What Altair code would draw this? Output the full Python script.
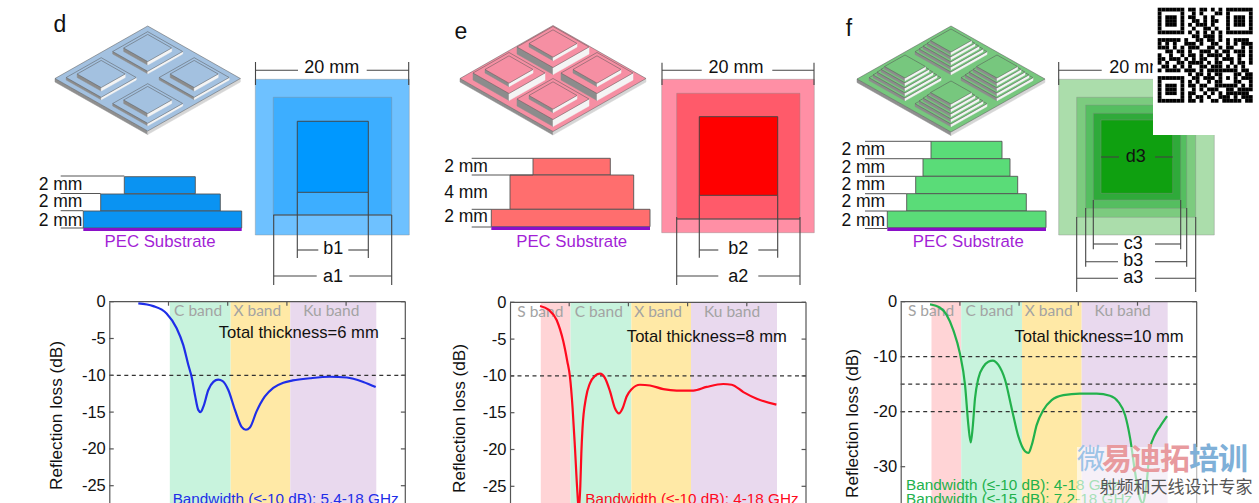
import altair as alt
import pandas as pd

# ---------- reflection-loss curves (GHz, dB) ----------
f_d = [1.96,2.97,3.87,4.55,5,5.34,5.56,5.79,6.01,6.17,6.35,6.69,7.03,7.36,7.66,8.04,8.49,8.94,9.23,9.5,9.95,10.5,11.08,11.76,12.4,13.56,14.9,16.04,17.16,18]
rl_d = [-.23,-.6,-1.6,-3.6,-5.9,-8.6,-10.2,-12.7,-14.7,-15,-14.3,-12,-10.9,-10.6,-10.8,-12,-14.7,-17,-17.4,-17.1,-14.9,-12.9,-11.7,-11,-10.7,-10.4,-10.2,-10.3,-10.9,-11.6]
f_e = [2.03,2.6,3.15,3.6,3.87,4.05,4.23,4.39,4.55,4.65,4.75,4.82,4.9,5.13,5.4,5.74,6.08,6.42,6.76,7.09,7.36,7.61,7.88,8.22,8.78,9.46,10.36,11.26,12.39,13.29,14.41,14.98,15.77,16.67,18]
rl_e = [-.5,-1,-2.4,-5.3,-8,-10.1,-14.4,-19.8,-25.7,-28.3,-25,-20.5,-17.1,-13,-11,-10,-9.7,-10.3,-12.1,-14.4,-15.1,-14.4,-12.8,-11.8,-11.2,-11.3,-11.8,-12,-12,-11.5,-11.1,-11.2,-12.2,-13.1,-13.9]
f_f = [1.98,2.66,3.1,3.56,4,4.35,4.57,4.73,4.86,5.02,5.25,5.59,5.92,6.22,6.6,7.05,7.5,7.95,8.4,8.63,8.85,9.19,9.64,10.2,10.99,12.1,13.24,14.14,14.7,15.16,15.5,15.83,16.17,16.35,16.6,16.85,17.18,17.52,18]
rl_f = [-.5,-1.1,-2.4,-5.2,-9.4,-15.2,-22.4,-25.6,-23,-17.6,-13.9,-11.8,-10.9,-10.7,-11.5,-14.2,-19.4,-24.5,-27.2,-27.5,-26.1,-22.4,-19.7,-17.9,-17,-16.7,-16.7,-17.1,-18.2,-20.6,-24.8,-30.9,-35.8,-36.6,-33.3,-26.7,-24.2,-22.7,-20.8]

band_names = ["S band", "C band", "X band", "Ku band"]
band_start = [2.08, 4.09, 8.2, 12.23]
band_end = [4.09, 8.2, 12.23, 18.04]
band_label_x = [2.05, 6, 10, 15]
band_colors = ["#FFD4D6", "#C8F3DD", "#FFE9A6", "#E9D9EE"]

# ---------- schematic geometry, in picture pixels ----------
side_squares = [
    [255.3,409.3,79.3,235,"#6EC1FF"],[273.3,391.7,97.3,215,"#3DAEFF"],[297.3,368.3,121.3,192.3,"#0098FF"],
    [661.7,814.3,79.3,232.7,"#FF8FA5"],[676.7,800,93.3,219,"#FF5A6A"],[699.3,777.7,116.7,195.3,"#FF0000"],
    [1058.7,1214.3,79.3,235,"#ABDDAB"],[1076.7,1195.7,97.3,217.3,"#7CCB7F"],[1085.7,1186.7,105,208.3,"#55BE60"],
    [1093.3,1180.7,113.3,200,"#2FAA3A"],[1101,1172.7,120,193.3,"#0FA010"],
]
inner_squares = [side_squares[2], side_squares[5]]
stack_layers = [
    [124.3,195.3,176.7,193.7,"#0A93F2"],[100.7,220.3,194,211,"#0A93F2"],[83.3,241.7,211,228,"#0A93F2"],
    [533,610.3,158.3,175,"#FF6E6E"],[510,633.7,175,209.3,"#FF6E6E"],[491.3,650,209.3,226.7,"#FF6E6E"],
    [931,1002,141.3,158.7,"#5ADC78"],[923,1010,158.7,176.3,"#5ADC78"],[915.7,1017.7,176.3,193.7,"#5ADC78"],
    [906.7,1026.3,193.7,211,"#5ADC78"],[887.3,1046,211,227.7,"#5ADC78"],
]
pec_bars = [[83.3,241.7,228,231],[491.3,650,226.7,230],[887.3,1046,227.7,231]]

leaders = [
    [60.7,124.3,176],[60.7,100.7,193.5],[60.7,83.3,210.7],[60.7,83.3,228],
    [471.7,533,158.3],[471.7,533,175],[471.7,491.3,209.3],[471.7,491.3,227],
    [865,931,141.3],[865,923,158.7],[865,915.7,176.3],[865,906.7,193.7],[865,887.3,211],[865,887.3,228.5],
]
# horizontal dimension parts: x1, x2, y
dim_h = [
    [255.5,298,70.3],[366.7,408.7,70.3],[297.3,318.3,250],[348.3,368.3,250],[273.7,316.7,276],[349.3,391.7,276],
    [273.3,391.7,215],
    [662,701.7,70.3],[772.3,814,70.3],[699.3,718.3,250],[758.3,777.7,250],[676.7,718.3,276],[758.3,800,276],
    [676.7,800,219],
    [1058.7,1101.7,70.3],[1101,1119,157],[1155,1172.7,157],[1093.3,1118,244],[1155,1180.7,244],
    [1085.7,1118,261.7],[1155,1186.7,261.7],[1076.7,1118,278.3],[1155,1195.7,278.3],
]
# vertical dimension parts: x, y1, y2
dim_v = [
    [255.5,62,85],[408.7,62,85],[297.3,192.3,258],[368.3,192.3,258],[273.7,215,285],[391.7,215,285],
    [662,62.7,85],[814,62.7,85],[699.3,195.3,257.7],[777.7,195.3,257.7],[676.7,217,285],[800,217,285],
    [1058.7,62,85],[1093.3,200,249.3],[1180.7,200,249.3],[1085.7,208,266.7],[1186.7,208,266.7],
    [1076.7,217,292],[1195.7,217,292],
]
labels = [
    ["d",60,25,23],["e",461,32,23],["f",849,29,23],
    ["20 mm",331.7,68,18],["b1",333.3,249,18],["a1",333,277,18],
    ["20 mm",736,68,18],["b2",738.3,249,18],["a2",738.3,277,18],
    ["20 mm",1136.7,68,18],["d3",1135.7,156.7,18],["c3",1133.3,244,18],["b3",1133.3,261,18],["a3",1133.3,278,18],
    ["2 mm",60.5,184.5,17.5],["2 mm",60.5,202,17.5],["2 mm",60.5,221,17.5],
    ["2 mm",466,166.7,17.5],["4 mm",466,192.7,17.5],["2 mm",466,217.3,17.5],
    ["2 mm",863.3,150,17.5],["2 mm",863.3,167.7,17.5],["2 mm",863.3,185.3,17.5],["2 mm",863.3,202.3,17.5],["2 mm",863.3,220.7,17.5],
]
pec_labels = [["PEC Substrate",160,242],["PEC Substrate",571.7,242],["PEC Substrate",968.3,242]]

# isometric models: plate centre/half sizes, layer half widths and heights
iso_models = [
    dict(cx=147.7,cy=78.5,hx=92.7,hy=52.5,top="#A3C1E0",dx=46.5,dy=26,
         layers=[(35,0,2.5),(24,2.5,6)]),
    dict(cx=553,cy=78.5,hx=93,hy=53,top="#F68FA3",dx=44,dy=26,
         layers=[(36,0,7),(24,7,10.5)]),
    dict(cx=951,cy=79,hx=94,hy=53,top="#77C77E",dx=46,dy=26,
         layers=[(36,0,2.8),(32,2.8,5.6),(28,5.6,8.4),(24,8.4,11.2),(20.5,11.2,14)]),
]

qr_rows = [
"#######.##.##.#.#.#######",
"#.....#..#.#...##.#.....#",
"#.###.#.##..#.#...#.###.#",
"#.###.#..##.#.##..#.###.#",
"#.###.#.#.###.#...#.###.#",
"#.....#..#..##.#..#.....#",
"#######.#.#.#.#.#.#######",
".........##.###.#........",
"######.#..##.##.#.#.####.",
"#.#.#..###.#..##..#.#.###",
"###.#.#.###..##.#.##..#.#",
"..##.##.#..###.#.##.###.#",
"#..#..#.##.#.####.#..##.#",
"##.###.#.#.##..#.###.#..#",
"#.#..##.####.#.##..#.##.#",
".##.#.#.#..##.###.#.#.#..",
"#.####.###.#.###" + "#####" + ".##.",
"........" + "#.##.#.#" + "#...#" + "#.##",
"#######." + ".##.###." + "#.#.#" + ".###",
"#.....#." + "#.#..#.#" + "#...#" + "#..#",
"#.###.#." + "##.##..#" + "#####" + ".#.#",
"#.###.#." + ".#.#.###" + "..##." + "####",
"#.###.#." + "##..#.#." + "#.###" + "###.",
"#.....#." + "#.##.#.." + "###.#" + ".###",
"#######." + "##.#..##" + ".####" + "#.##",
]

# ---------- helpers ----------
PX = alt.Scale(domain=[0, 1259], range=[0, 1259], nice=False, zero=False)
PY = alt.Scale(domain=[0, 503], range=[0, 503], nice=False, zero=False)
ARIAL = "Liberation Sans"


def rects(rows, stroke=None, sw=0.8):
    df = pd.DataFrame(rows, columns=["x1", "x2", "y1", "y2", "c"])
    kw = dict(stroke=stroke, strokeWidth=sw) if stroke else {}
    return alt.Chart(df).mark_rect(**kw).encode(
        x=alt.X("x1:Q", scale=PX, axis=None), x2="x2:Q",
        y=alt.Y("y1:Q", scale=PY, axis=None), y2="y2:Q",
        fill=alt.Fill("c:N", scale=None),
    )


def hv_rules(h_rows, v_rows, color="#444444", sw=1.1):
    rows = [dict(x1=a, x2=b, y1=y, y2=y) for a, b, y in h_rows] + [dict(x1=x, x2=x, y1=a, y2=b) for x, a, b in v_rows]
    return alt.Chart(pd.DataFrame(rows)).mark_rule(color=color, strokeWidth=sw).encode(
        x=alt.X("x1:Q", scale=PX, axis=None), x2="x2:Q",
        y=alt.Y("y1:Q", scale=PY, axis=None), y2="y2:Q",
    )


def poly(points, fill, stroke="#555555"):
    ring = [list(p) for p in points] + [list(points[0])]
    return {"type": "Feature", "geometry": {"type": "Polygon", "coordinates": [ring]},
            "properties": {"fill": fill, "stroke": stroke}}


def prism(cx, cy, hx, hy, z0, z1, top, left="#8C8C8C", right="#F4F4F4"):
    lv = lambda z: (cx - hx, cy - z)
    rv = lambda z: (cx + hx, cy - z)
    bv = lambda z: (cx, cy + hy - z)
    tv = lambda z: (cx, cy - hy - z)
    return [
        poly([lv(z1), bv(z1), bv(z0), lv(z0)], left, left),
        poly([bv(z1), rv(z1), rv(z0), bv(z0)], right, right),
        poly([tv(z1), rv(z1), bv(z1), lv(z1)], top),
    ]


features = []
for m in iso_models:
    features += prism(m["cx"], m["cy"], m["hx"], m["hy"], -3.5, 0, m["top"], "#8F8F8F", "#D6D6D6")
    ratio = m["hy"] / m["hx"]
    for ox, oy in [(0, -1), (-1, 0), (1, 0), (0, 1)]:
        px = m["cx"] + ox * m["dx"]
        py = m["cy"] + 1.5 + oy * m["dy"]
        for hx, z0, z1 in m["layers"]:
            features += prism(px, py, hx, hx * ratio, z0, z1, m["top"])

iso_layer = alt.Chart(alt.Data(values=features)).mark_geoshape(strokeWidth=0.5).encode(
    fill=alt.Fill("properties.fill:N", scale=None),
    stroke=alt.Stroke("properties.stroke:N", scale=None),
).properties(projection=alt.Projection(type="identity", scale=1, translate=[0, 0]))

text_df = pd.DataFrame(labels, columns=["t", "x", "y", "s"])
text_layer = alt.Chart(text_df).mark_text(font=ARIAL, baseline="middle", color="#111111").encode(
    x=alt.X("x:Q", scale=PX, axis=None), y=alt.Y("y:Q", scale=PY, axis=None),
    text="t:N", size=alt.Size("s:Q", scale=None),
)
pec_layer = alt.Chart(pd.DataFrame(pec_labels, columns=["t", "x", "y"])).mark_text(
    font=ARIAL, baseline="middle", color="#A31FD6", fontSize=16.8).encode(
    x=alt.X("x:Q", scale=PX, axis=None), y=alt.Y("y:Q", scale=PY, axis=None), text="t:N")

canvas_bottom = alt.layer(
    iso_layer,
    rects(side_squares, stroke="#888888", sw=0.4),
    rects(inner_squares, stroke="#444444", sw=0.9),
    rects(stack_layers, stroke="#555555", sw=0.9),
    rects([r + ["#8A10C8"] for r in pec_bars]),
    hv_rules(leaders, [], color="#555555", sw=1),
    hv_rules(dim_h, dim_v),
    text_layer,
    pec_layer,
)


def panel(x0, y0, px_db, dmin, band_ids, freq, loss, color, dashes, yticks, label_y,
          total, total_xy, bw_lines):
    xs = alt.Scale(domain=[0, 20], range=[x0, x0 + 296], nice=False, zero=False)
    ys = alt.Scale(domain=[dmin, 0], range=[y0 + px_db * (-dmin), y0], nice=False, zero=False)
    X = lambda f: alt.X(f, scale=xs, axis=None)
    Y = lambda f: alt.Y(f, scale=ys, axis=None)
    bdf = pd.DataFrame([dict(a=band_start[i], b=band_end[i], lo=dmin, hi=0, c=band_colors[i], n=band_names[i],
                             lx=band_label_x[i], ly=label_y) for i in band_ids])
    bands = alt.Chart(bdf).mark_rect().encode(
        x=X("a:Q"), x2="b:Q",
        y=alt.Y("lo:Q", scale=ys, axis=None),
        y2="hi:Q", fill=alt.Fill("c:N", scale=None))
    band_text = alt.Chart(bdf).mark_text(font="Lato", fontSize=15.5, color="#A3A3A3", baseline="middle").encode(
        x=X("lx:Q"), y=Y("ly:Q"), text="n:N")
    dash = alt.Chart(pd.DataFrame(dict(v=dashes, a=[0] * len(dashes), b=[20] * len(dashes)))).mark_rule(
        color="#333333", strokeWidth=1.2, strokeDash=[4, 3.5]).encode(x=X("a:Q"), x2="b:Q", y=Y("v:Q"))
    frame_rows = [dict(a=0, b=20, p=0, q=0), dict(a=20, b=20, p=dmin, q=0)]
    for v in yticks:
        frame_rows += [dict(a=0, b=0.3, p=v, q=v), dict(a=19.7, b=20, p=v, q=v)]
    for f in [4, 8, 12, 16]:
        frame_rows.append(dict(a=f, b=f, p=0, q=-4 / px_db))
    frame = alt.Chart(pd.DataFrame(frame_rows)).mark_rule(color="#555555", strokeWidth=1.2).encode(
        x=X("a:Q"), x2="b:Q", y=Y("p:Q"), y2="q:Q")
    line = alt.Chart(pd.DataFrame(dict(f=freq, rl=loss))).mark_line(
        color=color, strokeWidth=2.2, interpolate="monotone").encode(x=X("f:Q"), y=Y("rl:Q"))
    total_t = alt.Chart(pd.DataFrame(dict(t=[total], x=[total_xy[0]], y=[total_xy[1]]))).mark_text(
        font=ARIAL, fontSize=16.6, color="#111111", baseline="middle").encode(x=X("x:Q"), y=Y("y:Q"), text="t:N")
    bw = alt.Chart(pd.DataFrame(bw_lines, columns=["t", "x", "y"])).mark_text(
        font=ARIAL, fontSize=15.3, color=color, align="left", baseline="alphabetic").encode(
        x=X("x:Q"), y=Y("y:Q"), text="t:N")
    return alt.layer(bands, band_text, dash, frame, line, total_t, bw)


def axis_unit(x0, y0, px_db, dmin, yticks, title_x, title_y):
    ys = alt.Scale(domain=[dmin, 0], range=[y0 + px_db * (-dmin), y0], nice=False, zero=False)
    return alt.Chart(pd.DataFrame(dict(v=yticks))).mark_point(opacity=0).encode(
        y=alt.Y("v:Q", scale=ys, axis=alt.Axis(
            orient="left", offset=-x0, values=yticks, labelExpr="'' + datum.value", ticks=False,
            domainColor="#555555", domainWidth=1.2, labelFont=ARIAL, labelFontSize=16.5, labelColor="#111111",
            labelPadding=4, grid=False, title="Reflection loss (dB)", titleFont=ARIAL, titleFontSize=17.2,
            titleFontWeight="normal", titleColor="#111111", titleX=title_x - x0, titleY=title_y,
            titleBaseline="middle", titleAngle=270, zindex=1, labelOverlap=False)))


ticks_d = [0, -5, -10, -15, -20, -25]
ticks_e = [0, -5, -10, -15, -20, -25]
ticks_f = [0, -10, -20, -30]
panel_d = panel(109.3, 301.7, 7.36, -30, [1, 2, 3], f_d, rl_d, "#1F2EE8", [-10], ticks_d, -1.3,
                "Total thickness=6 mm", (12.8, -4.3), [["Bandwidth (≤-10 dB): 5.4-18 GHz", 4.28, -27.5]])
panel_e = panel(510, 302.3, 7.36, -30, [0, 1, 2, 3], f_e, rl_e, "#FF0A1E", [-10], ticks_e, -1.3,
                "Total thickness=8 mm", (13.3, -4.67), [["Bandwidth (≤-10 dB): 4-18 GHz", 5.09, -27.4]])
panel_f = panel(900.7, 301.7, 5.5, -40, [0, 1, 2, 3], f_f, rl_f, "#22B14C", [-10, -15, -20], ticks_f, -1.6,
                "Total thickness=10 mm", (13.4, -6.36),
                [["Bandwidth (≤-10 dB): 4-18 GHz", 0.36, -34.2], ["Bandwidth (≤-15 dB): 7.2-18 GHz", 0.36, -36.8]])
axis_d = axis_unit(109.3, 301.7, 7.36, -30, ticks_d, 56, 415)
axis_e = axis_unit(510, 302.3, 7.36, -30, ticks_e, 459, 418)
axis_f = axis_unit(900.7, 301.7, 5.5, -40, ticks_f, 852, 423)

# QR code card and watermark sit on top of everything
qr_cells = [dict(c=c, c2=c + 1, r=r, r2=r + 1) for r, row in enumerate(qr_rows) for c, ch in enumerate(row) if ch == "#"]
qr_card = rects([[1153, 1259, 0, 135, "#FFFFFF"]])
qr_layer = alt.Chart(pd.DataFrame(qr_cells)).mark_rect(color="#000000").encode(
    x=alt.X("c:Q", scale=alt.Scale(domain=[0, 25], range=[1157.7, 1252.7], nice=False, zero=False), axis=None), x2="c2:Q",
    y=alt.Y("r:Q", scale=alt.Scale(domain=[0, 25], range=[7.7, 102.7], nice=False, zero=False), axis=None), y2="r2:Q",
)
wm_card = alt.Chart(pd.DataFrame([dict(x1=1077, x2=1250, y1=447, y2=505)])).mark_rect(color="#FFFFFF", opacity=0.6).encode(
    x=alt.X("x1:Q", scale=PX, axis=None), x2="x2:Q", y=alt.Y("y1:Q", scale=PY, axis=None), y2="y2:Q")
wm_text_rows = [["微", 1091, 461, 28, "#9DC3E6", 400], ["易", 1117, 460, 30, "#E89A9E", 700], ["迪", 1146, 460, 30, "#E89A9E", 700],
                ["拓", 1175, 460, 30, "#E89A9E", 700], ["培", 1204, 460, 30, "#7FB0D8", 700], ["训", 1233, 460, 30, "#7FB0D8", 700],
                ["射频和天线设计专家", 1176, 488, 17, "#555555", 400]]
wm_df = pd.DataFrame(wm_text_rows, columns=["t", "x", "y", "s", "c", "w"])
wm_text = alt.layer(*[
    alt.Chart(wm_df[wm_df.w == w]).mark_text(font="Noto Sans CJK SC", baseline="middle", fontWeight=w).encode(
        x=alt.X("x:Q", scale=PX, axis=None), y=alt.Y("y:Q", scale=PY, axis=None), text="t:N",
        size=alt.Size("s:Q", scale=None), color=alt.Color("c:N", scale=None))
    for w in [400, 700]])
canvas_top = alt.layer(qr_card, wm_card, wm_text)

chart = alt.layer(canvas_bottom, panel_d, panel_e, panel_f, canvas_top, qr_layer, axis_d, axis_e, axis_f).resolve_scale(
    x="independent", y="independent"
).resolve_axis(
    x="independent", y="independent"
).properties(
    width=1259, height=503, padding=0, autosize=alt.AutoSizeParams(type="none"), background="#FFFFFF"
).configure_view(stroke=None)

PAGE_CSS = "html,body{margin:0;padding:0;overflow:hidden} svg{display:block}"
chart.save("out.html", embed_options={"renderer": "svg", "actions": False, "defaultStyle": PAGE_CSS})
